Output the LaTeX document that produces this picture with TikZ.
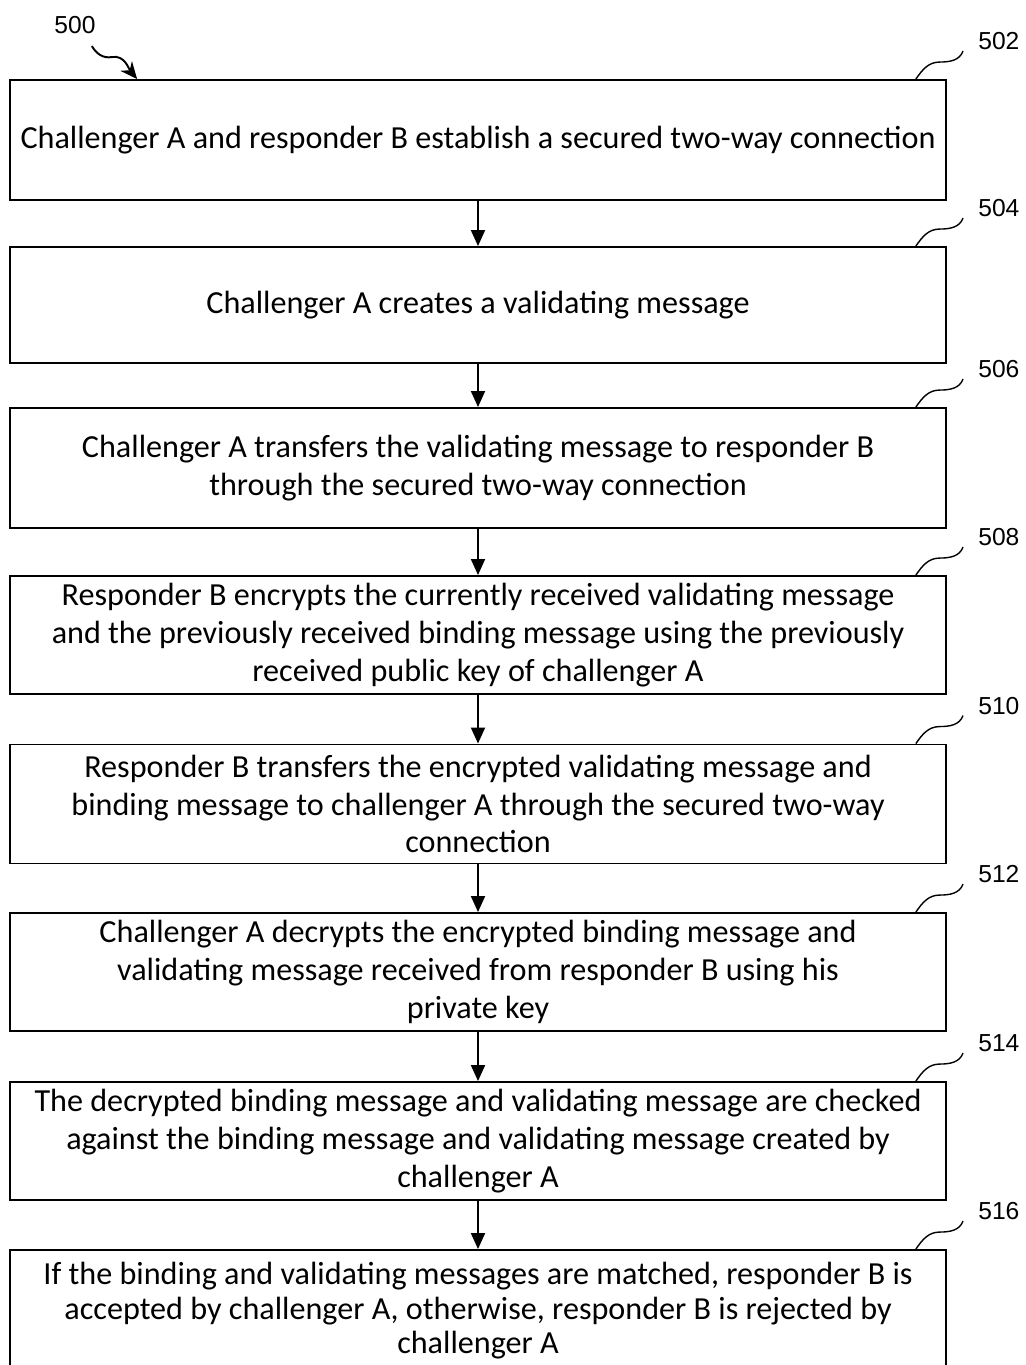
\documentclass[tikz,border=0pt]{standalone}
\usepackage{fontspec}
\setmainfont{Carlito}
\newfontfamily\numfont{Liberation Sans}
\usetikzlibrary{calc,arrows.meta,positioning}
\tikzset{
    stage/.style={
    rectangle,draw=black,line width=1.1pt,minimum width=18.72cm,inner sep=0pt,
    align=center,font=\fontsize{18.3}{21.5}\selectfont
    },
    reflabel/.style={
    inner sep=0pt,font=\numfont\fontsize{14}{16}\selectfont
    },
    flow/.style={
    -{Triangle[length=0.32cm,width=0.28cm]},line width=1.1pt
    },
    leader/.style={
    line width=0.8pt
    },
}

\begin{document}
\begin{tikzpicture}[x=0.02cm,y=-0.02cm]
   \useasboundingbox (0,0) rectangle (1025,1365);
   \node[stage,minimum height=2.4cm]  (S502) at (478,140)  {Challenger A and responder B establish a secured two-way connection};
   \node[stage,minimum height=2.32cm] (S504) at (478,305)  {Challenger A creates a validating message};
   \node[stage,minimum height=2.4cm]  (S506) at (478,468)  {Challenger A transfers the validating message to responder B\\through the secured two-way connection};
   \node[stage,minimum height=2.36cm] (S508) at (478,635)  {Responder B encrypts the currently received validating message\\and the previously received binding message using the previously\\received public key of challenger A};
   \node[stage,minimum height=2.38cm] (S510) at (478,804)  {Responder B transfers the encrypted validating message and\\binding message to challenger A through the secured two-way\\connection};
   \node[stage,minimum height=2.36cm] (S512) at (478,972)  {Challenger A decrypts the encrypted binding message and\\validating message received from responder B using his\\private key};
   \node[stage,minimum height=2.36cm] (S514) at (478,1141) {The decrypted binding message and validating message are checked\\against the binding message and validating message created by\\challenger A};
   \node[stage,minimum height=2.44cm,font=\fontsize{18.3}{19.6}\selectfont] (S516) at (478,1311) {If the binding and validating messages are matched, responder B is\\accepted by challenger A, otherwise, responder B is rejected by\\challenger A};

   % reference numerals
   \node[reflabel] (L500) at (75,25) {500};
   \foreach \n in {502,504,506,508,510,512,514,516} {
      \node[reflabel] (L\n) at ($(S\n.north east)+(52,-38)$) {\n};
      \draw[leader] ($(S\n.north east)+(-31,0)$) to[out=55,in=180] ++(24,-17) to[out=0,in=-110] ($(L\n.west)+(-15,10)$);
   }
   \draw[line width=1.1pt,-{Stealth[length=0.34cm,width=0.3cm]}] ($(L500.south east)+(-4,12)$) to[out=-60,in=190] ++(20,11) to[out=10,in=130] ($(S502.north west)+(128,0)$);

  \path[flow]
             (S502) edge (S504)
             (S504) edge (S506)
             (S506) edge (S508)
             (S508) edge (S510)
             (S510) edge (S512)
             (S512) edge (S514)
             (S514) edge (S516);
\end{tikzpicture}
\end{document}
